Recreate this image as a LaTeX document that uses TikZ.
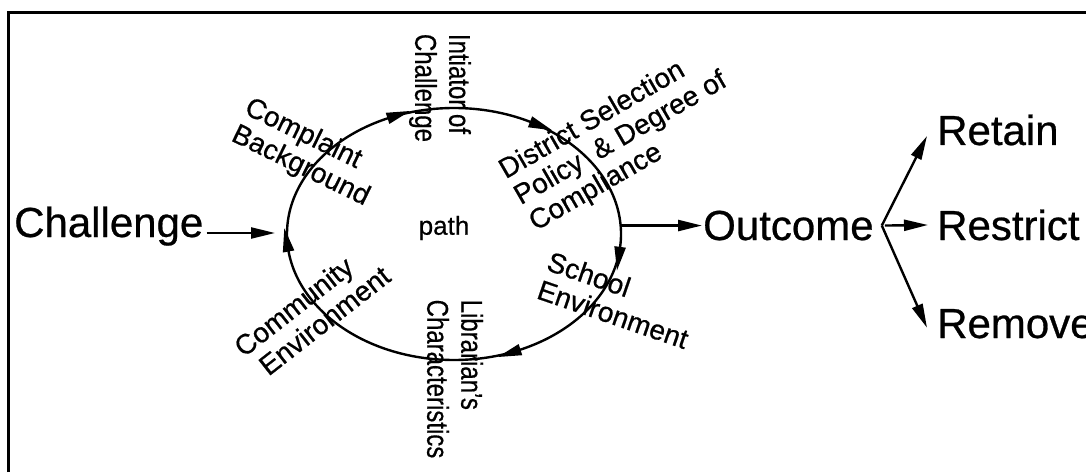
\documentclass[tikz,border=0pt]{standalone}
\usepackage{fontspec}
\setmainfont{Liberation Sans}[FakeBold=0.6]
\usetikzlibrary{arrows.meta}
\usetikzlibrary{calc}
\usetikzlibrary{decorations.markings}
\usetikzlibrary{positioning}

\begin{document}
\begin{tikzpicture}
	[x=1pt, y=1pt,
	> = {Triangle[length=24pt, width=11pt]},
	every node/.style={inner sep=0pt},
	big/.style = {font=\fontsize{42}{46}\selectfont, anchor=base west},
	lbl/.style = {font=\fontsize{28}{30}\selectfont, align=left},
	vlbl/.style = {font=\fontsize{30}{34}\selectfont, align=left, rotate=-90, xscale=.8},
	link/.style = {line width=2.4pt, ->},
	arrows on loop/.style = {postaction=decorate, decoration={markings,
		mark=at position .166 with {\arrow{<}},
		mark=at position .323 with {\arrow{<}},
		mark=at position .519 with {\arrow{<}},
		mark=at position .823 with {\arrow{<}},
		mark=at position .986 with {\arrow{<}}}}
	]
	\useasboundingbox (0,0) rectangle (1086,472);
	\draw[line width=3.5pt] (8.5,0) |- (1086,459.5);

	\coordinate (loop) at (454,238);
	\coordinate (loop in) at ($(loop)+(-179,1)$);
	\coordinate (loop out) at ($(loop)+(167,8)$);
	\draw[line width=2.4pt, arrows on loop] (loop) ellipse [x radius=167, y radius=126];
	\node[font=\fontsize{26}{28}\selectfont] (path) at (444,244) {path};

	\node[big] (challenge) at (14,235) {Challenge};
	\node[big] (outcome) at (703,232) {Outcome};
	\node[big] (retain) at (937,327) {Retain};
	\node[big] (restrict) at (937,232) {Restrict};
	\node[big] (remove) at (937,134) {Remove};

	\node[lbl, rotate=-26] (complaint) at (307,319) {Complaint\\Background};
	\node[vlbl] (initiator) at (440,384) {Intiator of\\Challenge};
	\node[lbl, rotate=30] (district) at (621,333) {District Selection\\Policy \ \& Degree of\\Compliance};
	\node[lbl, rotate=-19] (school) at (618,172) {School\\Environment};
	\node[vlbl] (librarian) at (455,93) {Librarian's\\Characteristics};
	\node[lbl, rotate=38] (community) at (312,161) {Community\\\hspace*{8pt}Environment};

	\draw[link] ([shift={(3,4)}]challenge.base east) -- (loop in);
	\draw[link, shorten >=1pt] (outcome.west -| loop out) -- (outcome.west);
	\coordinate (fan) at ([xshift=8]outcome.east);
	\draw[link] (fan) -- ([shift={(-10,-6)}]retain.west);
	\draw[link] ([xshift=3]fan) -- ([xshift=-9]restrict.west);
	\draw[link] (fan) -- ([shift={(-10,-4)}]remove.west);
\end{tikzpicture}
\end{document}
